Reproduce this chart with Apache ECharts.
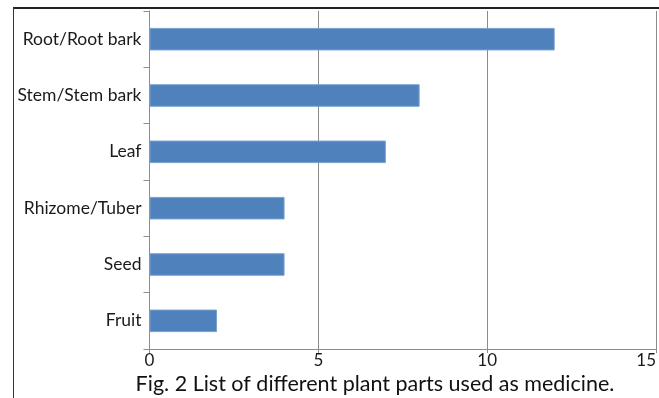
<!DOCTYPE html>
<html>
<head>
<meta charset="utf-8">
<script src="https://cdn.jsdelivr.net/npm/echarts@6/dist/echarts.min.js"></script>
<style>
  html, body { margin: 0; padding: 0; background: #ffffff; }
  #chart { width: 659px; height: 398px; }
</style>
</head>
<body>
<div id="chart"></div>
<script>
// Plant parts used as medicine (number of species)
const categories = ['Root/Root bark', 'Stem/Stem bark', 'Leaf', 'Rhizome/Tuber', 'Seed', 'Fruit'];
const counts = [12, 8, 7, 4, 4, 2];
const xTicks = { min: 0, max: 15, interval: 5 };
const caption = 'Fig. 2 List of different plant parts used as medicine.';

const FONT = 'Lato, "Open Sans", sans-serif';
const chart = echarts.init(document.getElementById('chart'), null, { renderer: 'canvas' });

chart.setOption({
  animation: false,
  backgroundColor: '#ffffff',
  grid: { left: 149.5, right: 1, top: 11, bottom: 49, containLabel: false },
  xAxis: {
    type: 'value',
    min: xTicks.min,
    max: xTicks.max,
    interval: xTicks.interval,
    axisLine: { show: true, lineStyle: { color: '#8c8c8c', width: 1 } },
    axisTick: { show: true, length: 4, lineStyle: { color: '#8c8c8c' } },
    splitLine: { show: true, lineStyle: { color: '#8c8c8c', width: 1 } },
    axisLabel: {
      color: '#1a1a1a', fontFamily: FONT, fontSize: 17, margin: 3,
      alignMaxLabel: 'right'
    }
  },
  yAxis: {
    type: 'category',
    inverse: true,
    data: categories,
    axisLine: { show: true, lineStyle: { color: '#8c8c8c', width: 1 } },
    axisTick: { show: true, length: 6, lineStyle: { color: '#8c8c8c' } },
    axisLabel: { color: '#1a1a1a', fontFamily: FONT, fontSize: 17.5, margin: 8 }
  },
  series: [{
    type: 'bar',
    data: counts,
    barCategoryGap: '60%',
    itemStyle: { color: '#4f81bd', borderColor: '#7aa0d0', borderWidth: 1 }
  }],
  graphic: [
    // outer frame: top and left edges
    { type: 'line', shape: { x1: 13, y1: 8, x2: 659, y2: 8 }, style: { stroke: '#222222', lineWidth: 2 }, silent: true },
    { type: 'line', shape: { x1: 13.5, y1: 8, x2: 13.5, y2: 398 }, style: { stroke: '#333333', lineWidth: 1 }, silent: true },
    {
      type: 'text', x: 375, y: 384,
      style: {
        text: caption, fill: '#111111', font: '21.5px ' + FONT,
        textAlign: 'center', textVerticalAlign: 'middle'
      }
    }
  ]
});
</script>
</body>
</html>
